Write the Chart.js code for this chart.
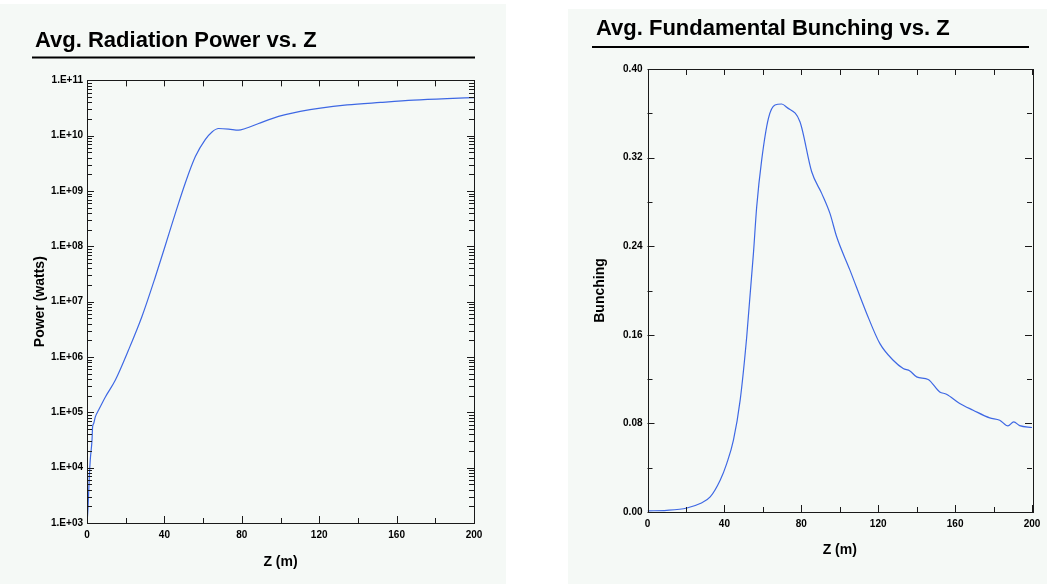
<!DOCTYPE html>
<html>
<head>
<meta charset="utf-8">
<script src="https://cdn.jsdelivr.net/npm/chart.js@4.4.0/dist/chart.umd.min.js"></script>
<style>
body { margin: 0; background: #fff; width: 1047px; height: 584px; position: relative; overflow: hidden; }
.panel { position: absolute; background: #f5f9f6; }
.box { position: absolute; }
</style>
</head>
<body>
<div class="panel" style="left:0;top:4px;width:506px;height:580px"></div>
<div class="panel" style="left:568px;top:9px;width:479px;height:575px"></div>
<div class="box" style="left:0;top:0;width:506px;height:584px"><canvas id="chartPower"></canvas></div>
<div class="box" style="left:560px;top:0;width:487px;height:584px"><canvas id="chartBunch"></canvas></div>
<script>
/* values */
var zTicks = [0, 40, 80, 120, 160, 200];
var zMinor = [20, 60, 100, 140, 180];
var powerTicks = [1e3, 1e4, 1e5, 1e6, 1e7, 1e8, 1e9, 1e10, 1e11];
var bunchTicks = [0, 0.08, 0.16, 0.24, 0.32, 0.40];
var bunchMinor = [0.04, 0.12, 0.20, 0.28, 0.36];

var zPower = [0, 0.5, 1.2, 1.7, 2.6, 2.9, 3.4, 4.3, 6.0, 9.5, 14.6, 21.5, 28.4, 35.3, 40.5, 45.6,
    50.8, 56, 61.1, 64.6, 68, 73.2, 78.3, 81.8, 88.7, 95.6, 102.5, 110.2, 120.6, 134.4, 151.6,
    168.8, 186, 200];
var power = [1.0e3, 1.8e3, 6.9e3, 1.4e4, 3.2e4, 5.5e4, 6.2e4, 8.3e4, 1.1e5, 1.9e5, 3.8e5, 1.35e6,
    5.4e6, 2.8e7, 1.05e8, 3.9e8, 1.4e9, 4.2e9, 8.5e9, 1.17e10, 1.35e10, 1.32e10, 1.26e10, 1.35e10,
    1.66e10, 2.04e10, 2.4e10, 2.75e10, 3.16e10, 3.6e10, 4.0e10, 4.4e10, 4.7e10, 4.9e10];

var zBunch = [0, 10, 20.5, 27.4, 32.6, 37.8, 41.2, 44.7, 48.2, 51.6, 55.1, 56.8, 59.4, 62.9, 66.3,
    69.8, 72.4, 79.3, 85.4, 90.6, 94.9, 98.4, 105.3, 114, 120.9, 127.8, 133, 136.5, 140, 146, 152,
    155.5, 162.4, 169.4, 178, 183.2, 187.5, 190.5, 193.6, 200];
var bunching = [0.001, 0.0015, 0.0036, 0.0076, 0.0136, 0.0287, 0.0437, 0.0648, 0.101, 0.158, 0.2335,
    0.2756, 0.318, 0.3555, 0.3675, 0.3684, 0.3654, 0.3524, 0.3072, 0.2877, 0.2696, 0.2485, 0.2184,
    0.1793, 0.152, 0.137, 0.1296, 0.1274, 0.122, 0.1196, 0.1084, 0.1064, 0.098, 0.0919, 0.085,
    0.0829, 0.0777, 0.0813, 0.078, 0.0763];

Chart.defaults.font.family = "'Liberation Sans', Arial, sans-serif";
Chart.defaults.color = '#000';

function pairs(xs, ys) {
    return xs.map((x, i) => ({ x: x, y: ys[i] }));
}
// 2..9 times each decade, for the small log ticks
function logMinor(decades) {
    var out = [];
    for (var i = 0; i < decades.length - 1; i++) {
        for (var m = 2; m <= 9; m++) { out.push(m * decades[i]); }
    }
    return out;
}
function expLabel(v) {
    var e = Math.round(Math.log10(v));
    return '1.E+' + (e < 10 ? '0' : '') + e;
}

/* box round the plot, inward ticks on all four sides, rule under the title */
var frameTicks = {
    id: 'frameTicks',
    afterDatasetsDraw(chart, args, opts) {
        var a = chart.chartArea, ctx = chart.ctx;
        var xs = chart.scales.x, ys = chart.scales.y;
        ctx.save();
        ctx.strokeStyle = '#1a1a1a';
        ctx.lineWidth = 1;
        ctx.strokeRect(Math.round(a.left) + 0.5, Math.round(a.top) + 0.5,
            Math.round(a.right - a.left), Math.round(a.bottom - a.top));
        ctx.beginPath();
        function xTick(v, len, lenTop) {
            var p = Math.round(xs.getPixelForValue(v)) + 0.5;
            ctx.moveTo(p, a.bottom); ctx.lineTo(p, a.bottom - len);
            ctx.moveTo(p, a.top); ctx.lineTo(p, a.top + lenTop);
        }
        function yTick(v, len) {
            var p = Math.round(ys.getPixelForValue(v)) + 0.5;
            ctx.moveTo(a.left, p); ctx.lineTo(a.left + len, p);
            ctx.moveTo(a.right, p); ctx.lineTo(a.right - len, p);
        }
        opts.xMajor.forEach(v => xTick(v, 7, 6));
        opts.xMinor.forEach(v => xTick(v, 5, 6));
        opts.yMajor.forEach(v => yTick(v, 7));
        opts.yMinor.forEach(v => yTick(v, 5));
        ctx.stroke();
        ctx.fillStyle = '#000';
        ctx.fillRect(opts.rule[0], opts.rule[2], opts.rule[1] - opts.rule[0], 2);
        ctx.restore();
    }
};

function makeChart(id, cfg) {
    return new Chart(document.getElementById(id), {
        type: 'line',
        data: {
            datasets: [{
                data: cfg.data,
                borderColor: 'rgb(62,104,228)',
                borderWidth: 1.2,
                pointRadius: 0,
                cubicInterpolationMode: 'monotone'
            }]
        },
        options: {
            responsive: true,
            maintainAspectRatio: false,
            animation: false,
            layout: { padding: cfg.padding },
            plugins: {
                legend: { display: false },
                tooltip: { enabled: false },
                title: {
                    display: true,
                    text: cfg.title,
                    align: 'start',
                    color: '#000',
                    font: { size: 22, weight: 'bold' },
                    padding: cfg.titlePad
                },
                frameTicks: cfg.ticks
            },
            scales: {
                x: {
                    type: 'linear',
                    min: 0,
                    max: 200,
                    afterBuildTicks: s => { s.ticks = zTicks.map(v => ({ value: v })); },
                    afterFit: s => { s.height = cfg.xHeight; },
                    grid: { display: false, drawTicks: false },
                    border: { display: false },
                    ticks: { autoSkip: false, maxRotation: 0, padding: 6, font: { size: 10, weight: 'bold' } },
                    title: { display: true, text: 'Z (m)', font: { size: 14, weight: 'bold' }, padding: { top: 4, bottom: 4 } }
                },
                y: cfg.y
            }
        },
        plugins: [frameTicks]
    });
}

var chartPower = makeChart('chartPower', {
    data: pairs(zPower, power),
    title: 'Avg. Radiation Power vs. Z',
    padding: { left: 35, right: 32, top: 0, bottom: 9 },
    titlePad: { top: 28, bottom: 26 },
    xHeight: 52,
    ticks: { xMajor: zTicks, xMinor: zMinor, yMajor: powerTicks, yMinor: logMinor(powerTicks), rule: [32, 475, 56.5] },
    y: {
        type: 'logarithmic',
        min: 1e3,
        max: 1e11,
        afterBuildTicks: s => { s.ticks = powerTicks.map(v => ({ value: v })); },
        afterFit: s => { s.width = 52; },
        grid: { display: false, drawTicks: false },
        border: { display: false },
        ticks: { autoSkip: false, padding: 4, font: { size: 10, weight: 'bold' }, callback: v => expLabel(v) },
        title: { display: true, text: 'Power (watts)', font: { size: 14, weight: 'bold' }, padding: { top: -3.4, bottom: 0 } }
    }
});

var chartBunch = makeChart('chartBunch', {
    data: pairs(zBunch, bunching),
    title: 'Avg. Fundamental Bunching vs. Z',
    padding: { left: 36, right: 15, top: 0, bottom: 21 },
    titlePad: { top: 16, bottom: 26.6 },
    xHeight: 51,
    ticks: { xMajor: zTicks, xMinor: zMinor, yMajor: bunchTicks, yMinor: bunchMinor, rule: [32, 469, 46] },
    y: {
        type: 'linear',
        min: 0,
        max: 0.4,
        afterBuildTicks: s => { s.ticks = bunchTicks.map(v => ({ value: v })); },
        afterFit: s => { s.width = 51.5; },
        grid: { display: false, drawTicks: false },
        border: { display: false },
        ticks: { autoSkip: false, padding: 5, font: { size: 10, weight: 'bold' }, callback: v => v.toFixed(2) },
        title: { display: true, text: 'Bunching', font: { size: 14, weight: 'bold' }, padding: { top: -4.4, bottom: 0 } }
    }
});
</script>
</body>
</html>
